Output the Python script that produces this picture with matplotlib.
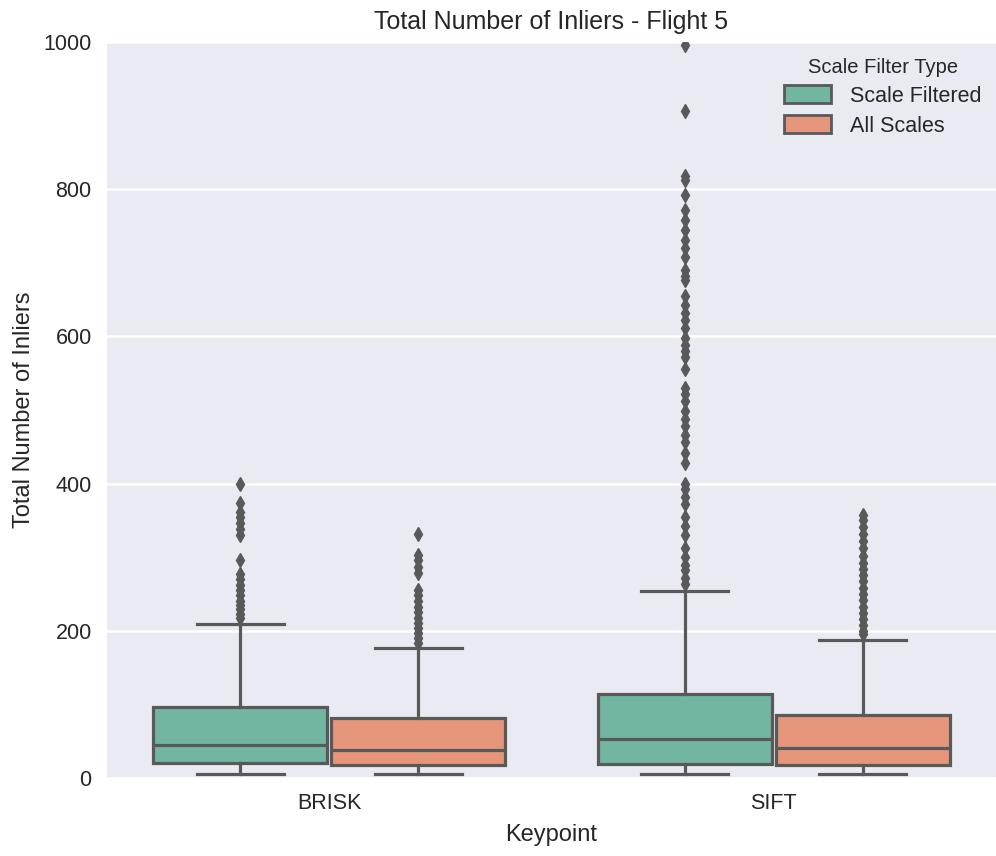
import matplotlib
matplotlib.use("Agg")
import matplotlib.pyplot as plt
from matplotlib.patches import Patch

plt.rcParams['font.family'] = ['Liberation Sans', 'DejaVu Sans']

keypoints = ["BRISK", "SIFT"]
filter_types = ["Scale Filtered", "All Scales"]
colors = ["#72b6a1", "#e5967a"]
line_gray = "#595959"

# box statistics per (keypoint, filter type): whislo, q1, med, q3, whishi
stats_brisk_sf = [5, 20, 45, 96, 209]
stats_brisk_all = [5, 18, 38, 81, 177]
stats_sift_sf = [5, 19, 53, 114, 254]
stats_sift_all = [5, 18, 41, 85, 187]

fliers_brisk_sf = [400, 373, 362, 354, 346, 338, 330, 296, 277, 270, 262, 255,
                   248, 241, 235, 229, 223, 217]
fliers_brisk_all = [331, 303, 296, 287, 278, 255, 248, 240, 233, 226, 218, 211,
                    204, 197, 190, 183]
fliers_sift_sf = [996, 906, 818, 812, 792, 772, 758, 745, 731, 720, 708, 690,
                  682, 676, 655, 642, 632, 622, 612, 598, 588, 580, 572, 556,
                  530, 522, 512, 498, 488, 478, 466, 456, 442, 428, 400, 392,
                  382, 372, 354, 342, 330, 312, 300, 290, 282, 272, 264]
fliers_sift_all = [358, 350, 341, 332, 322, 312, 302, 292, 284, 276, 268, 258,
                   250, 242, 232, 224, 216, 208, 200, 195]

all_stats = [[stats_brisk_sf, stats_brisk_all], [stats_sift_sf, stats_sift_all]]
all_fliers = [[fliers_brisk_sf, fliers_brisk_all], [fliers_sift_sf, fliers_sift_all]]

fig = plt.figure(figsize=(9.96, 8.56), dpi=100)
ax = fig.add_axes([107 / 996, 1 - 778 / 856, 889 / 996, 736 / 856])
ax.set_facecolor("#EAEAF2")
for s in ax.spines.values():
    s.set_visible(False)
ax.grid(True, axis="y", color="white", linewidth=1.8)
ax.grid(False, axis="x")
ax.set_axisbelow(True)

lw = 2.3
box_w = 0.392
offsets = [-0.2, 0.2]
for i, kp in enumerate(keypoints):
    for j in range(2):
        lo, q1, med, q3, hi = all_stats[i][j]
        st = dict(whislo=lo, q1=q1, med=med, q3=q3, whishi=hi,
                  fliers=all_fliers[i][j], label=kp)
        ax.bxp([st], positions=[i + offsets[j]], widths=box_w, patch_artist=True,
               showfliers=True, manage_ticks=False,
               boxprops=dict(facecolor=colors[j], edgecolor=line_gray, linewidth=lw),
               medianprops=dict(color=line_gray, linewidth=lw),
               whiskerprops=dict(color=line_gray, linewidth=lw),
               capprops=dict(color=line_gray, linewidth=lw),
               flierprops=dict(marker="d", markersize=7, markerfacecolor=line_gray,
                               markeredgecolor=line_gray, linestyle="none"),
               capwidths=box_w / 2)

ax.set_xlim(-0.5, 1.5)
ax.set_ylim(0, 1000)
ax.set_xticks(range(len(keypoints)))
ax.set_xticklabels(keypoints)
ax.set_yticks([0, 200, 400, 600, 800, 1000])
ax.tick_params(axis="both", length=0, labelsize=15.5, colors="#262626")
ax.tick_params(axis="y", pad=11)
ax.tick_params(axis="x", pad=11)
ax.set_xlabel("Keypoint", fontsize=17, color="#262626", labelpad=7)
ax.set_ylabel("Total Number of Inliers", fontsize=17, color="#262626", labelpad=6)
ax.set_title("Total Number of Inliers - Flight 5", fontsize=18, color="#262626", pad=9)

handles = [Patch(facecolor=c, edgecolor=line_gray, linewidth=2, label=l)
           for c, l in zip(colors, filter_types)]
leg = ax.legend(handles=handles, title="Scale Filter Type", loc="upper right",
                frameon=False, fontsize=15.5, title_fontsize=14.5,
                handlelength=2.2, handleheight=0.9, labelspacing=0.4,
                handletextpad=0.9, bbox_to_anchor=(1.006, 1.005))
leg.get_title().set_color("#262626")
for t in leg.get_texts():
    t.set_color("#262626")

fig.savefig("out.png", dpi=100)
